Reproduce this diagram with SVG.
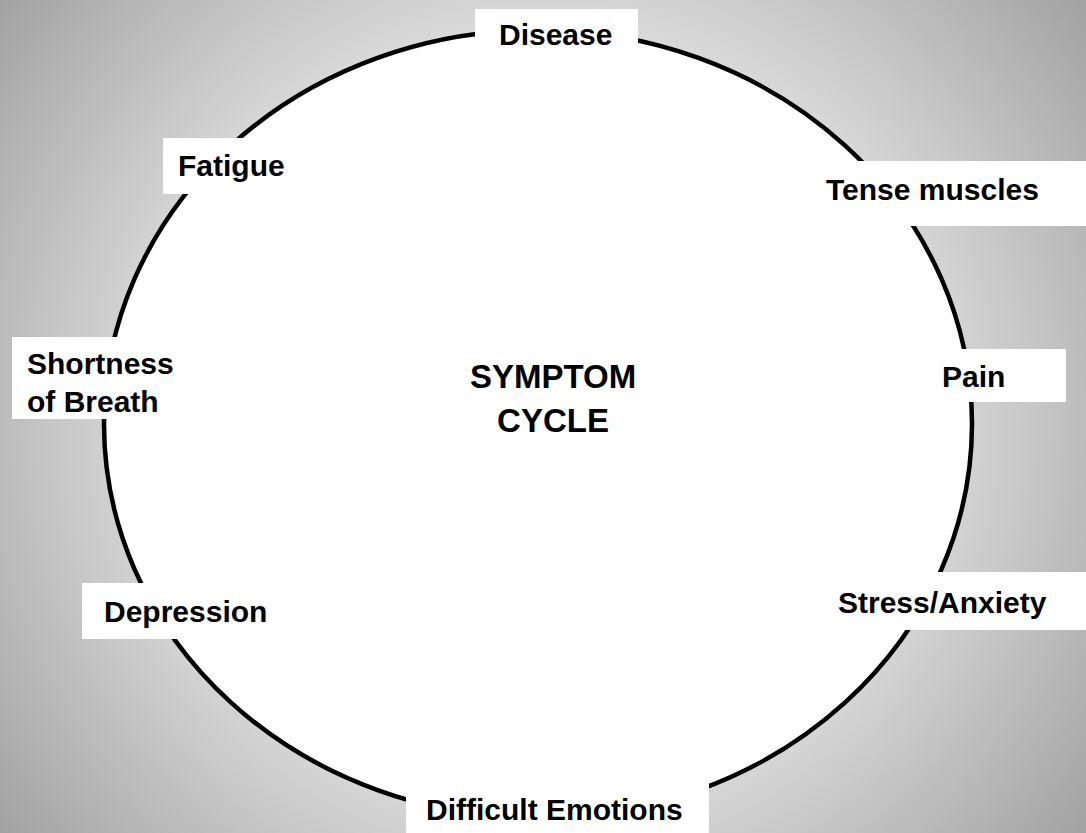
<svg xmlns="http://www.w3.org/2000/svg" width="1086" height="833" viewBox="0 0 1086 833">
  <defs>
    <radialGradient id="bg" gradientUnits="userSpaceOnUse" cx="543" cy="416" r="684">
      <stop offset="0.28" stop-color="#ffffff"/>
      <stop offset="1" stop-color="#a2a2a2"/>
    </radialGradient>
  </defs>
  <style>
    .box { fill: #ffffff; stroke: none; }
    .lbl { font-family: "Liberation Sans", Arial, sans-serif; font-weight: bold; font-size: 30px; fill: #000000; }
    .title { font-family: "Liberation Sans", Arial, sans-serif; font-weight: bold; font-size: 33px; fill: #000000; text-anchor: middle; }
    .cycle { fill: #ffffff; stroke: #000000; stroke-width: 4.5; }
  </style>
  <rect x="0" y="0" width="1086" height="833" fill="url(#bg)"/>
  <g id="connectors">
    <ellipse class="cycle" cx="538" cy="424" rx="434" ry="394"/>
  </g>
  <g id="center">
    <text class="title" x="553" y="388">SYMPTOM</text>
    <text class="title" x="553" y="432">CYCLE</text>
  </g>
  <g id="disease">
    <rect class="box" x="475" y="9" width="163" height="52"/>
    <text class="lbl" x="499" y="45">Disease</text>
  </g>
  <g id="tense-muscles">
    <rect class="box" x="810" y="161" width="276" height="65"/>
    <text class="lbl" x="826" y="200">Tense muscles</text>
  </g>
  <g id="pain">
    <rect class="box" x="925" y="349" width="141" height="53"/>
    <text class="lbl" x="942" y="387">Pain</text>
  </g>
  <g id="stress-anxiety">
    <rect class="box" x="820" y="572" width="266" height="58"/>
    <text class="lbl" x="838" y="613">Stress/Anxiety</text>
  </g>
  <g id="difficult-emotions">
    <rect class="box" x="406" y="780" width="303" height="53"/>
    <text class="lbl" x="426" y="820">Difficult Emotions</text>
  </g>
  <g id="depression">
    <rect class="box" x="82" y="583" width="208" height="56"/>
    <text class="lbl" x="104" y="622">Depression</text>
  </g>
  <g id="shortness-of-breath">
    <rect class="box" x="12" y="337" width="180" height="82"/>
    <text class="lbl" x="27" y="374">Shortness</text>
    <text class="lbl" x="27" y="412">of Breath</text>
  </g>
  <g id="fatigue">
    <rect class="box" x="163" y="138" width="137" height="56"/>
    <text class="lbl" x="178" y="176">Fatigue</text>
  </g>
</svg>
